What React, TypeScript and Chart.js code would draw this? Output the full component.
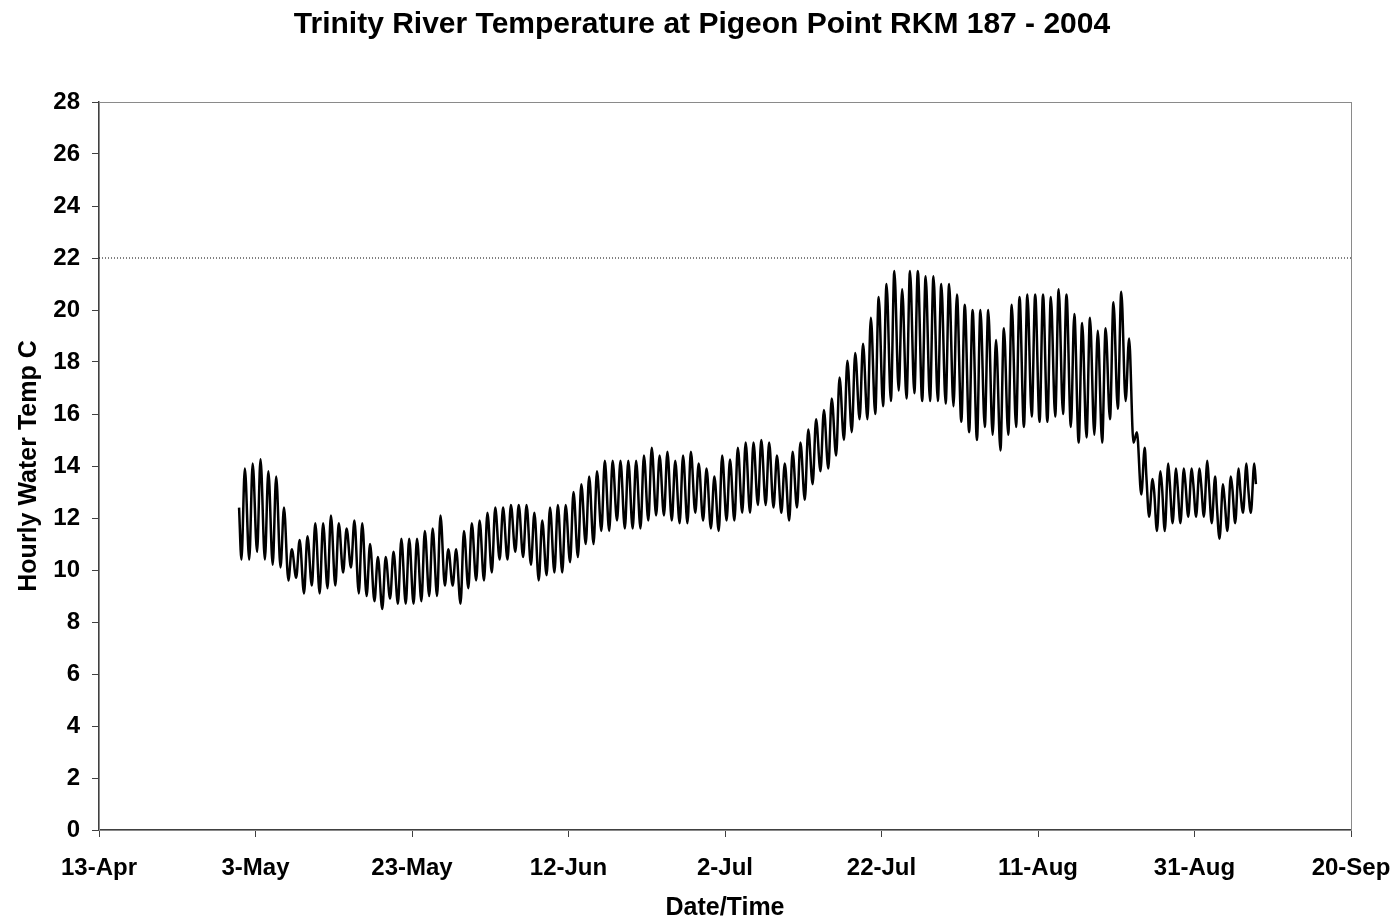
import React, { useEffect, useRef } from "react";
import { Chart, registerables } from "chart.js";

Chart.register(...registerables);

const TITLE = "Trinity River Temperature at Pigeon Point RKM 187 - 2004";
const X_TITLE = "Date/Time";
const Y_TITLE = "Hourly Water Temp C";
// x axis: days after 13-Apr, one tick every 20 days
const X_TICK_LABELS = ["13-Apr", "3-May", "23-May", "12-Jun", "2-Jul", "22-Jul", "11-Aug", "31-Aug", "20-Sep"];
const X_MAX_DAYS = 160;
const X_STEP_DAYS = 20;
const Y_MAX = 28;
const Y_STEP = 2;
const CRITERION_TEMP = 22;

// first record (30-Apr evening) and daily lows / highs starting 1-May
const START_DAY = 18;
const FIRST_READING = 12.4;
const DAILY_LOW = [
  10.4, 10.4, 10.7, 10.4, 10.2, 10.1, 9.6, 9.7, 9.1, 9.4,
  9.1, 9.3, 9.4, 9.9, 10.1, 9.1, 9.0, 8.8, 8.5, 8.9,
  8.7, 8.7, 8.7, 8.8, 9.0, 9.0, 9.4, 9.4, 8.7, 9.3,
  9.6, 9.6, 9.9, 10.4, 10.4, 10.7, 10.5, 10.2, 9.6, 9.8,
  9.9, 9.9, 10.3, 10.5, 11.0, 11.0, 11.5, 11.5, 11.9, 11.6,
  11.6, 11.6, 11.9, 12.1, 12.1, 11.9, 11.8, 11.8, 12.2, 11.9,
  11.6, 11.5, 11.9, 11.9, 12.2, 12.2, 12.5, 12.5, 12.4, 12.2,
  11.9, 12.4, 12.7, 13.3, 13.8, 13.9, 14.4, 15.0, 15.3, 15.8,
  15.8, 16.0, 16.3, 16.5, 16.9, 16.6, 16.8, 16.5, 16.5, 16.5,
  16.4, 16.3, 15.7, 15.3, 15.0, 15.5, 15.2, 14.6, 15.2, 15.5,
  15.5, 15.9, 15.7, 15.7, 15.9, 16.0, 15.5, 14.9, 15.1, 15.2,
  14.9, 15.8, 16.2, 16.5, 14.9, 12.9, 12.05, 11.5, 11.5, 11.8,
  11.8, 12.05, 12.05, 12.05, 11.8, 11.2, 11.5, 11.8, 12.2, 12.2,
];
const DAILY_HIGH = [
  13.9, 14.1, 14.26, 13.8, 13.6, 12.4, 10.8, 11.15, 11.3, 11.8,
  11.8, 12.1, 11.8, 11.6, 11.9, 11.8, 11.0, 10.5, 10.5, 10.7,
  11.2, 11.2, 11.2, 11.5, 11.6, 12.1, 10.8, 10.8, 11.5, 11.8,
  11.9, 12.2, 12.4, 12.4, 12.5, 12.5, 12.5, 12.2, 11.9, 12.4,
  12.5, 12.5, 13.0, 13.3, 13.6, 13.8, 14.2, 14.2, 14.2, 14.2,
  14.2, 14.4, 14.7, 14.4, 14.55, 14.2, 14.4, 14.55, 14.1, 13.9,
  13.6, 14.4, 14.25, 14.7, 14.9, 14.9, 15.0, 14.9, 14.4, 14.1,
  14.55, 14.9, 15.4, 15.8, 16.15, 16.6, 17.4, 18.05, 18.35, 18.7,
  19.7, 20.5, 21.0, 21.5, 20.8, 21.5, 21.5, 21.3, 21.3, 21.0,
  21.0, 20.6, 20.2, 20.0, 20.0, 20.0, 18.85, 19.3, 20.2, 20.5,
  20.6, 20.6, 20.6, 20.5, 20.8, 20.6, 19.85, 19.5, 19.7, 19.2,
  19.3, 20.3, 20.7, 18.9, 15.3, 14.7, 13.5, 13.8, 14.1, 13.9,
  13.9, 13.9, 13.9, 14.2, 13.6, 13.3, 13.6, 13.9, 14.1, 14.1,
];
// evening shoulder readings in late August / September (from day index 115)
const EVENING_START_INDEX = 115;
const EVENING = [13.6, 13.0, 13.2, 13.3, 13.2, 13.3, 13.3, 13.3, 13.3, 12.5, 12.7, 13.1, 13.1, 13.2, 13.3];

const FONT = "'Liberation Sans', Arial, Helvetica, sans-serif";

function buildSeries() {
  const pts: { x: number; y: number }[] = [{ x: START_DAY - 0.1, y: FIRST_READING }];
  for (let d = 0; d < DAILY_LOW.length; d++) {
    pts.push({ x: START_DAY + d + 0.2, y: DAILY_LOW[d] });
    pts.push({ x: START_DAY + d + 0.64, y: DAILY_HIGH[d] });
    const e = d - EVENING_START_INDEX;
    if (e >= 0 && e < EVENING.length) pts.push({ x: START_DAY + d + 0.85, y: EVENING[e] });
  }
  return pts;
}

const boxPlugin = {
  id: "plotBox",
  beforeDatasetsDraw(chart: any) {
    const { ctx, chartArea } = chart;
    ctx.save();
    ctx.strokeStyle = "#8a8a8a";
    ctx.lineWidth = 1;
    ctx.strokeRect(chartArea.left + 0.5, chartArea.top + 0.5, chartArea.right - chartArea.left, chartArea.bottom - chartArea.top);
    ctx.restore();
  },
};

export default function App() {
  const ref = useRef<HTMLCanvasElement>(null);
  useEffect(() => {
    document.body.style.margin = "0";
    const canvas = ref.current!;
    const chart = new Chart(canvas, {
      type: "line",
      data: {
        datasets: [
          {
            label: "Temp",
            data: buildSeries(),
            borderColor: "#000",
            borderWidth: 2.5,
            pointRadius: 0,
            cubicInterpolationMode: "monotone",
            fill: false,
          },
          {
            label: "Criterion",
            data: [
              { x: 0, y: CRITERION_TEMP },
              { x: X_MAX_DAYS, y: CRITERION_TEMP },
            ],
            borderColor: "#000",
            borderWidth: 1,
            borderDash: [1, 2],
            pointRadius: 0,
            fill: false,
          },
        ],
      },
      options: {
        responsive: false,
        animation: false,
        devicePixelRatio: 1,
        layout: { padding: { top: 0, left: 8, right: 0, bottom: 0 } },
        plugins: {
          legend: { display: false },
          tooltip: { enabled: false },
          title: {
            display: true,
            text: TITLE,
            color: "#000",
            font: { family: FONT, size: 30, weight: "bold", lineHeight: 1.2 },
            padding: { top: 7, bottom: 59 },
          },
        },
        scales: {
          x: {
            type: "linear",
            min: 0,
            max: X_MAX_DAYS,
            afterFit: (s: any) => {
              s.height = 91;
              s.paddingLeft = 0;
              s.paddingRight = 45;
            },
            ticks: {
              stepSize: X_STEP_DAYS,
              color: "#000",
              font: { family: FONT, size: 24, weight: "bold" },
              padding: 17,
              maxRotation: 0,
              autoSkip: false,
              callback: (v: any) => X_TICK_LABELS[Math.round(Number(v) / X_STEP_DAYS)] ?? "",
            },
            grid: { drawOnChartArea: false, drawTicks: true, tickLength: 7, color: "#404040" },
            border: { display: true, color: "#404040", width: 1.5 },
            title: {
              display: true,
              text: X_TITLE,
              color: "#000",
              font: { family: FONT, size: 25, weight: "bold", lineHeight: 1 },
              padding: { top: 0, bottom: 0 },
            },
          },
          y: {
            min: 0,
            max: Y_MAX,
            afterFit: (s: any) => {
              s.width = 91;
            },
            ticks: {
              stepSize: Y_STEP,
              color: "#000",
              font: { family: FONT, size: 24, weight: "bold" },
              padding: 12,
            },
            grid: { drawOnChartArea: false, drawTicks: true, tickLength: 7, color: "#404040" },
            border: { display: true, color: "#404040", width: 1.5 },
            title: {
              display: true,
              text: Y_TITLE,
              color: "#000",
              font: { family: FONT, size: 25, weight: "bold" },
              padding: { top: 6, bottom: 0 },
            },
          },
        },
      },
      plugins: [boxPlugin],
    } as any);
    return () => chart.destroy();
  }, []);
  return (
    <div style={{ width: 1396, height: 921, background: "#fff" }}>
      <canvas ref={ref} width={1396} height={921} style={{ display: "block" }} />
    </div>
  );
}
